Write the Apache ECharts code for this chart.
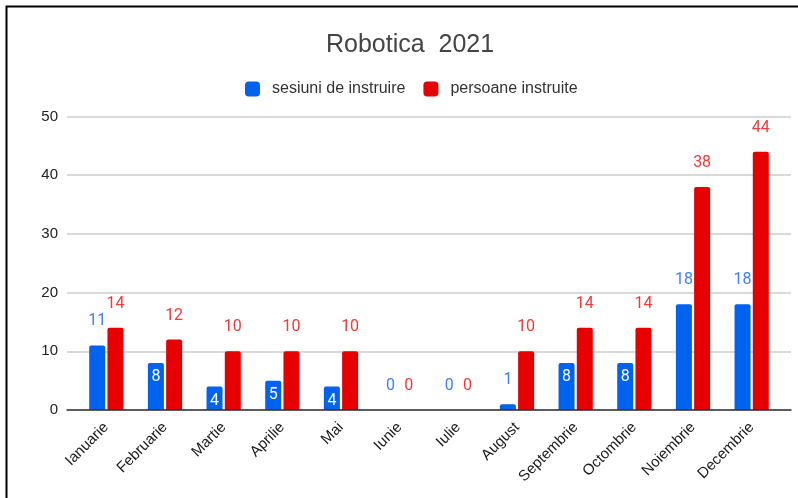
<!DOCTYPE html>
<html>
<head>
<meta charset="utf-8">
<script src="https://cdn.jsdelivr.net/npm/echarts@6/dist/echarts.min.js"></script>
<style>
html,body{margin:0;padding:0;background:#fff;}
#c{width:798px;height:498px;}
</style>
</head>
<body>
<div id="c"></div>
<script>
var categories = ['Ianuarie','Februarie','Martie','Aprilie','Mai','Iunie','Iulie','August','Septembrie','Octombrie','Noiembrie','Decembrie'];
var sesiuni = [11,8,4,5,4,0,0,1,8,8,18,18];
var persoane = [14,12,10,10,10,0,0,10,14,14,38,44];
var insideIdx = [1,2,3,4,8,9];
var yTicks = [0,10,20,30,40,50];

var font = 'Liberation Sans, Arial, sans-serif';
var blueData = sesiuni.map(function(v,i){
  if (insideIdx.indexOf(i) >= 0) {
    return {value:v, label:{position:'insideTop', distance:6, color:'#ffffff'}};
  }
  return v;
});

var chart = echarts.init(document.getElementById('c'));
chart.setOption({
  animation:false,
  backgroundColor:'#ffffff',
  title:{text:'Robotica  2021', left:321, top:28, textStyle:{fontFamily:font, fontSize:25, fontWeight:'normal', color:'#444'}},
  legend:{
    left:240, top:76, itemWidth:15, itemHeight:15, itemGap:18, icon:'roundRect',
    textStyle:{fontFamily:font, fontSize:16, color:'#333', padding:[0,0,0,7]},
    data:['sesiuni de instruire','persoane instruite']
  },
  grid:[
    {left:67, right:7, top:116.5, bottom:88},
    {left:77, right:17, top:116.5, bottom:88}
  ],
  xAxis:[
    {type:'category', gridIndex:0, data:categories, axisLabel:{show:false}, axisTick:{show:false},
     axisLine:{show:true, lineStyle:{color:'#333', width:1.5}}, z:5},
    {type:'category', gridIndex:1, data:categories, axisTick:{show:false}, axisLine:{show:false},
     axisLabel:{rotate:45, interval:0, margin:15, fontFamily:font, fontSize:15, color:'#1a1a1a'}}
  ],
  yAxis:[
    {type:'value', gridIndex:0, min:0, max:50, interval:10, axisLine:{show:false}, axisTick:{show:false},
     axisLabel:{margin:9, fontFamily:font, fontSize:15, color:'#222',
       formatter:function(v){return yTicks.indexOf(v)>=0 ? String(v) : '';}},
     splitLine:{lineStyle:{color:'#cccccc', width:1.5}}},
    {type:'value', gridIndex:1, min:0, max:50, interval:10, show:false, splitLine:{show:false}}
  ],
  series:[
    {name:'sesiuni de instruire', type:'bar', xAxisIndex:1, yAxisIndex:1, data:blueData,
     barWidth:16, barGap:'14%', itemStyle:{color:'#0063f0', borderRadius:[2,2,0,0]},
     label:{show:true, position:'top', distance:16, fontFamily:'Roboto, sans-serif', fontSize:16, fontWeight:'normal', color:'#3f80f5'}},
    {name:'persoane instruite', type:'bar', xAxisIndex:1, yAxisIndex:1, data:persoane,
     barWidth:16, itemStyle:{color:'#e60000', borderRadius:[2,2,0,0]},
     label:{show:true, position:'top', distance:16, fontFamily:'Roboto, sans-serif', fontSize:16, fontWeight:'normal', color:'#f03a3a'}}
  ],
  graphic:[
    {type:'polyline', shape:{points:[[6.5,498],[6.5,6.5],[798,6.5]]}, style:{stroke:'#000', lineWidth:2, fill:null}, z:100}
  ]
});
</script>
</body>
</html>
